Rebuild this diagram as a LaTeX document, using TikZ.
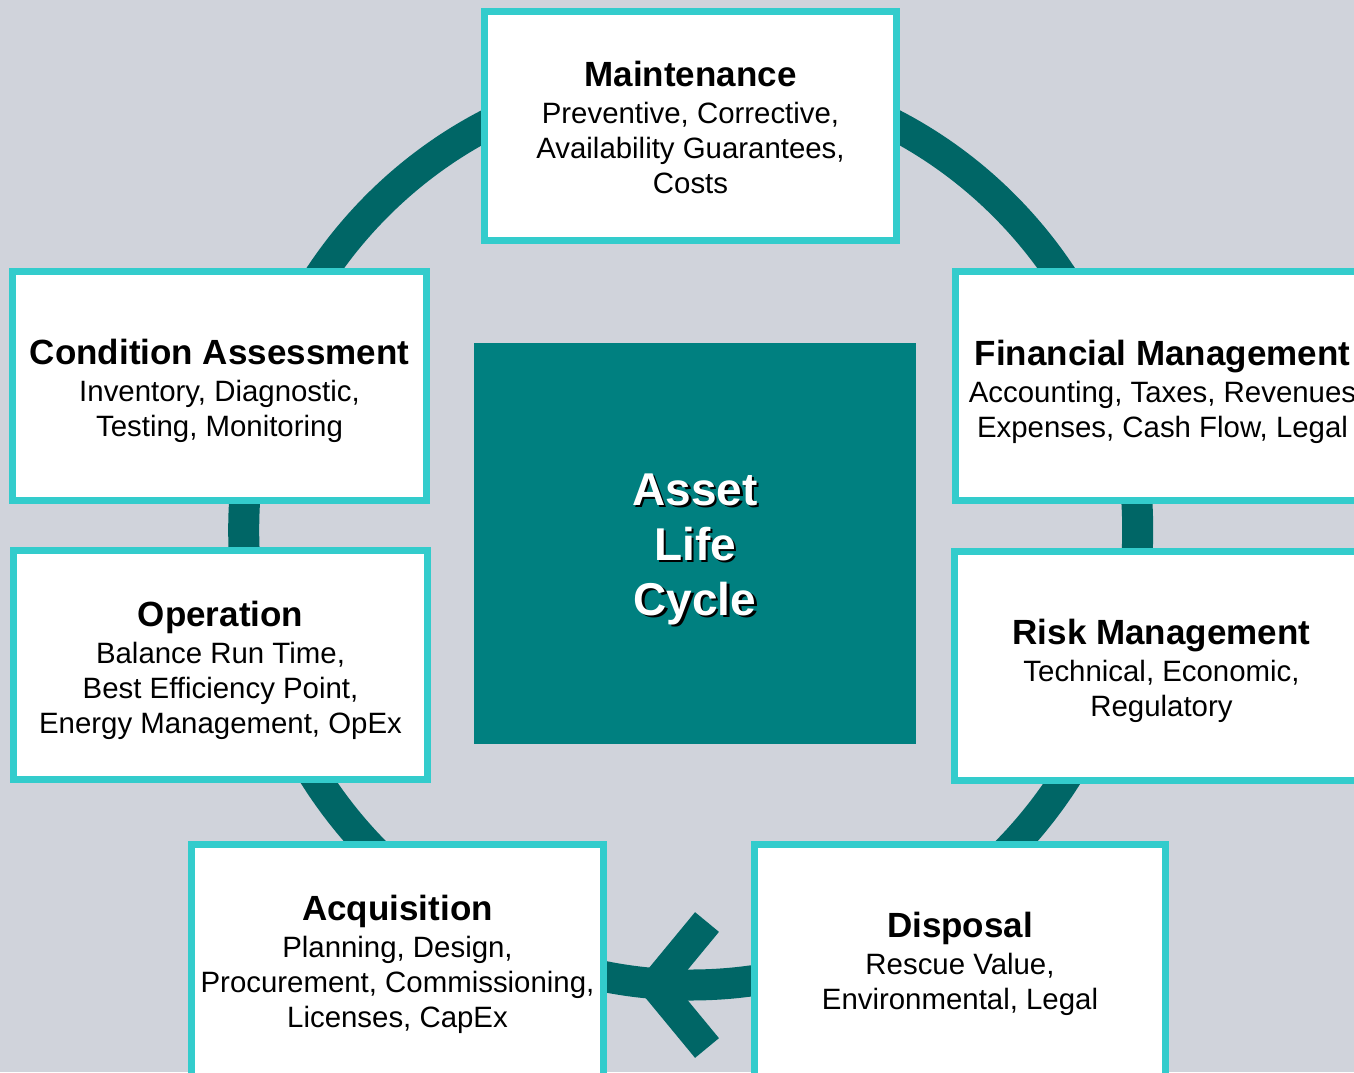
\documentclass[tikz,border=0pt]{standalone}
\usepackage{fontspec}
\setmainfont{Liberation Sans}
\definecolor{bgc}{RGB}{208,211,219}
\definecolor{ringc}{RGB}{0,102,102}
\definecolor{edgec}{RGB}{51,204,204}
\definecolor{corec}{RGB}{0,128,128}
\newcommand{\ttlf}{\fontsize{35}{42}\selectfont\bfseries}
\newcommand{\bodyf}{\fontsize{29.4}{35}\selectfont}
\tikzset{
  stagebox/.style={draw=edgec, line width=7pt, fill=white, inner sep=0pt,
    minimum width=414pt, minimum height=229pt},
  stagetext/.style={align=center, font=\bodyf, inner sep=0pt},
  ringline/.style={draw=ringc, line width=31pt},
  corebox/.style={fill=corec, inner sep=0pt, minimum width=442pt, minimum height=401pt},
  coretext/.style={align=center, font=\fontsize{46}{55}\selectfont\bfseries, inner sep=0pt}
}
\begin{document}
\begin{tikzpicture}[x=1pt,y=-1pt]
\useasboundingbox (0,0) rectangle (1354,1072);
\clip (0,0) rectangle (1354,1072);
\fill[bgc] (0,0) rectangle (1354,1072);
% ring
\draw[ringline] (690.7,530) ellipse [x radius=447, y radius=455];
% centre
\node[corebox] (core) at (695,543.5) {};
\node[coretext, text=black] (coreshadow) at (697.5,551.5) {Asset\\Life\\Cycle};
\node[coretext, text=white] (coretxt) at (695,549) {Asset\\Life\\Cycle};
% stages
\node[stagebox, minimum width=412pt] (maint) at (690.5,126) {};
\node[stagebox] (cond) at (219.5,385.5) {};
\node[stagebox] (oper) at (220.5,665) {};
\node[stagebox] (fin) at (1162.5,386) {};
\node[stagebox] (risk) at (1161.5,665.5) {};
\node[stagebox, minimum width=412pt, minimum height=233pt] (acq) at (397.5,961) {};
\node[stagebox, minimum width=411pt, minimum height=233pt] (disp) at (960,961) {};
\node[stagetext] (maintT) at ([yshift=-1.5pt]maint.center)
  {{\ttlf Maintenance}\\[2pt]Preventive, Corrective,\\Availability Guarantees,\\Costs};
\node[stagetext] (condT) at ([yshift=-5.5pt]cond.center)
  {{\ttlf Condition Assessment}\\[2pt]Inventory, Diagnostic,\\Testing, Monitoring};
\node[stagetext] (operT) at ([yshift=-5pt]oper.center)
  {{\ttlf Operation}\\[2pt]Balance Run Time,\\Best Efficiency Point,\\Energy Management, OpEx};
\node[stagetext] (finT) at ([yshift=-5.5pt]fin.center)
  {{\ttlf Financial Management}\\[2pt]Accounting, Taxes, Revenues\\Expenses, Cash Flow, Legal};
\node[stagetext] (riskT) at ([yshift=-5.5pt]risk.center)
  {{\ttlf Risk Management}\\[2pt]Technical, Economic,\\Regulatory};
\node[stagetext] (acqT) at ([yshift=-3pt]acq.center)
  {{\ttlf Acquisition}\\[2pt]Planning, Design,\\Procurement, Commissioning,\\Licenses, CapEx};
\node[stagetext] (dispT) at ([yshift=-3pt]disp.center)
  {{\ttlf Disposal}\\[2pt]Rescue Value,\\Environmental, Legal};
% arrow head on the ring, between Disposal and Acquisition
\coordinate (tipA) at (707,922);
\coordinate (tipV) at (655,985);
\coordinate (tipB) at (707,1048);
\draw[ringline, miter limit=10] (tipA) -- (tipV) -- (tipB);
\end{tikzpicture}
\end{document}
